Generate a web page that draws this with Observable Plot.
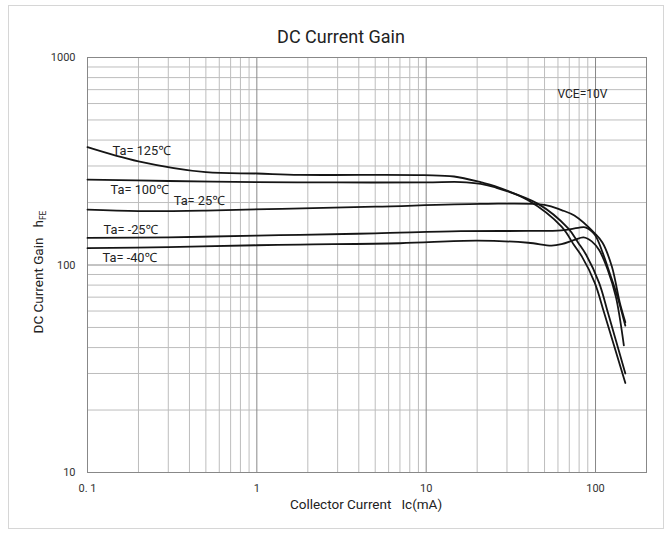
<!DOCTYPE html>
<html><head><meta charset="utf-8">
<script src="https://cdn.jsdelivr.net/npm/d3@7"></script>
<script src="https://cdn.jsdelivr.net/npm/@observablehq/plot@0.6"></script>
<style>
body{margin:0;background:#fff;}
#wrap{position:relative;width:672px;height:534px;overflow:hidden;}
#border{position:absolute;left:8px;top:5px;width:656px;height:524px;border:1px solid #d6d6d6;box-sizing:border-box;}
#chart{position:absolute;left:0;top:0;}
</style></head><body>
<div id="wrap"><div id="border"></div><div id="chart"></div></div>
<script>
// ---- data ----
const temps = ["125", "100", "25", "-25", "-40"];
const labelTexts = ["Ta= 125℃", "Ta= 100℃", "Ta= 25℃", "Ta= -25℃", "Ta= -40℃"];
const ic125  = [0.1, 0.2, 0.5, 1, 1.8, 9.7, 14.6, 21.2, 25.4, 40, 63, 75, 83, 99, 113, 150];
const hfe125 = [370, 316, 280, 276, 272, 271, 267, 250, 240, 205, 153, 124, 110, 82, 58, 27];
const ic100  = [0.1, 0.3, 1, 3, 10, 16, 21, 25.4, 45.8, 69, 79, 88, 105, 119, 150];
const hfe100 = [258, 254, 251, 250, 250, 251, 246, 237, 197, 150, 128, 112, 82, 58, 30];
const ic25   = [0.1, 0.2, 0.5, 1.4, 5, 21, 50, 63, 75, 99, 110, 125, 139, 150];
const hfe25  = [185, 182, 183, 186.5, 191, 197, 195, 184, 173, 142, 128, 98, 66, 53];
const icm25  = [0.1, 0.3, 1, 1.8, 5, 16, 40, 63, 79, 87, 99, 110, 122, 135, 150];
const hfem25 = [135, 136, 138.5, 139.8, 142, 145.5, 146, 147, 151, 152, 140, 115, 90, 70, 51];
const icm40  = [0.1, 0.3, 1, 1.8, 7, 20, 40, 55, 63, 75, 85, 95, 105, 118, 132, 147];
const hfem40 = [120.5, 122, 124.5, 125.5, 127.3, 131, 128, 124, 126, 132, 136, 130, 118, 95, 70, 41];

const xTicks = [0.1, 1, 10, 100];
const xTickLabels = ["0. 1", "1", "10", "100"];
const yTicks = [10, 100, 1000];
const yTickLabels = ["10", "100", "1000"];
const titleText = "DC Current Gain";
const xLabelText = "Collector Current   Ic(mA)";
const yLabelText = "DC Current Gain   h";
const yLabelSub = "FE";
const noteText = "VCE=10V";

// ---- build table ----
const seriesX = [ic125, ic100, ic25, icm25, icm40];
const seriesY = [hfe125, hfe100, hfe25, hfem25, hfem40];
const rows = [];
temps.forEach((t, k) => seriesX[k].forEach((x, i) => rows.push({temp: t, ic: x, hfe: seriesY[k][i]})));

// label anchors (data units)
const labels = [
  {text: labelTexts[0], x: 0.1406, y: 356},
  {text: labelTexts[1], x: 0.1368, y: 231},
  {text: labelTexts[2], x: 0.323, y: 204.6},
  {text: labelTexts[3], x: 0.1244, y: 148.3},
  {text: labelTexts[4], x: 0.1227, y: 108.7}
];

const xDomain = [0.1, 200], yDomain = [10, 1000];
const xAll = d3.scaleLog().domain(xDomain).ticks();
const yAll = d3.scaleLog().domain(yDomain).ticks();
const isMajor = v => Math.abs(Math.log10(v) - Math.round(Math.log10(v))) < 1e-9;
const xMinor = xAll.filter(v => !isMajor(v)), xMajor = xAll.filter(isMajor);
const yMinor = yAll.filter(v => !isMajor(v)), yMajor = yAll.filter(isMajor);

const FONT = "Roboto, 'Noto Sans', sans-serif";
const plot = Plot.plot({
  width: 672, height: 534,
  marginLeft: 87, marginRight: 26, marginTop: 57, marginBottom: 62,
  x: {type: "log", domain: xDomain},
  y: {type: "log", domain: yDomain},
  style: {fontFamily: FONT, background: "transparent", color: "#333"},
  marks: [
    Plot.ruleX(xMinor, {stroke: "#bdbdbd", strokeWidth: 1}),
    Plot.ruleY(yMinor, {stroke: "#bdbdbd", strokeWidth: 1}),
    Plot.ruleX(xMajor, {stroke: "#888", strokeWidth: 1}),
    Plot.ruleY(yMajor, {stroke: "#888", strokeWidth: 1}),
    Plot.frame({stroke: "#888"}),
    Plot.axisX({ticks: xTicks, tickSize: 0, tickPadding: 12, fontSize: 11, fill: "#333", label: null,
      tickFormat: d => xTickLabels[xTicks.findIndex(v => Math.abs(v - d) < 1e-9)]}),
    Plot.axisY({ticks: yTicks, tickSize: 0, tickPadding: 12, fontSize: 11, fill: "#333", label: null,
      tickFormat: d => yTickLabels[yTicks.findIndex(v => Math.abs(v - d) < 1e-9)]}),
    Plot.line(rows, {x: "ic", y: "hfe", z: "temp", curve: "catmull-rom", stroke: "#151515", strokeWidth: 1.8}),
    Plot.text(labels, {x: "x", y: "y", text: "text", textAnchor: "start", fontSize: 12.8, fill: "#222"}),
    Plot.text([noteText], {x: [59.6], y: [663], textAnchor: "start", fontSize: 12, fill: "#222"}),
    Plot.text([titleText], {frameAnchor: "top", textAnchor: "middle", dx: -26, dy: -27, fontSize: 18, fill: "#222"}),
    Plot.text([xLabelText], {frameAnchor: "bottom", textAnchor: "middle", dx: -1, dy: 36, fontSize: 13.5, fill: "#222"}),
    Plot.text([yLabelText], {frameAnchor: "left", textAnchor: "middle", dx: -49, dy: 7, rotate: -90, fontSize: 13.5, fill: "#222"})
  ]
});
d3.select(plot).selectAll("text").filter(function() { return this.textContent === yLabelText; })
  .append("tspan").attr("dy", "0.35em").attr("font-size", 8.5).text(yLabelSub);
document.getElementById("chart").appendChild(plot);
</script></body></html>
